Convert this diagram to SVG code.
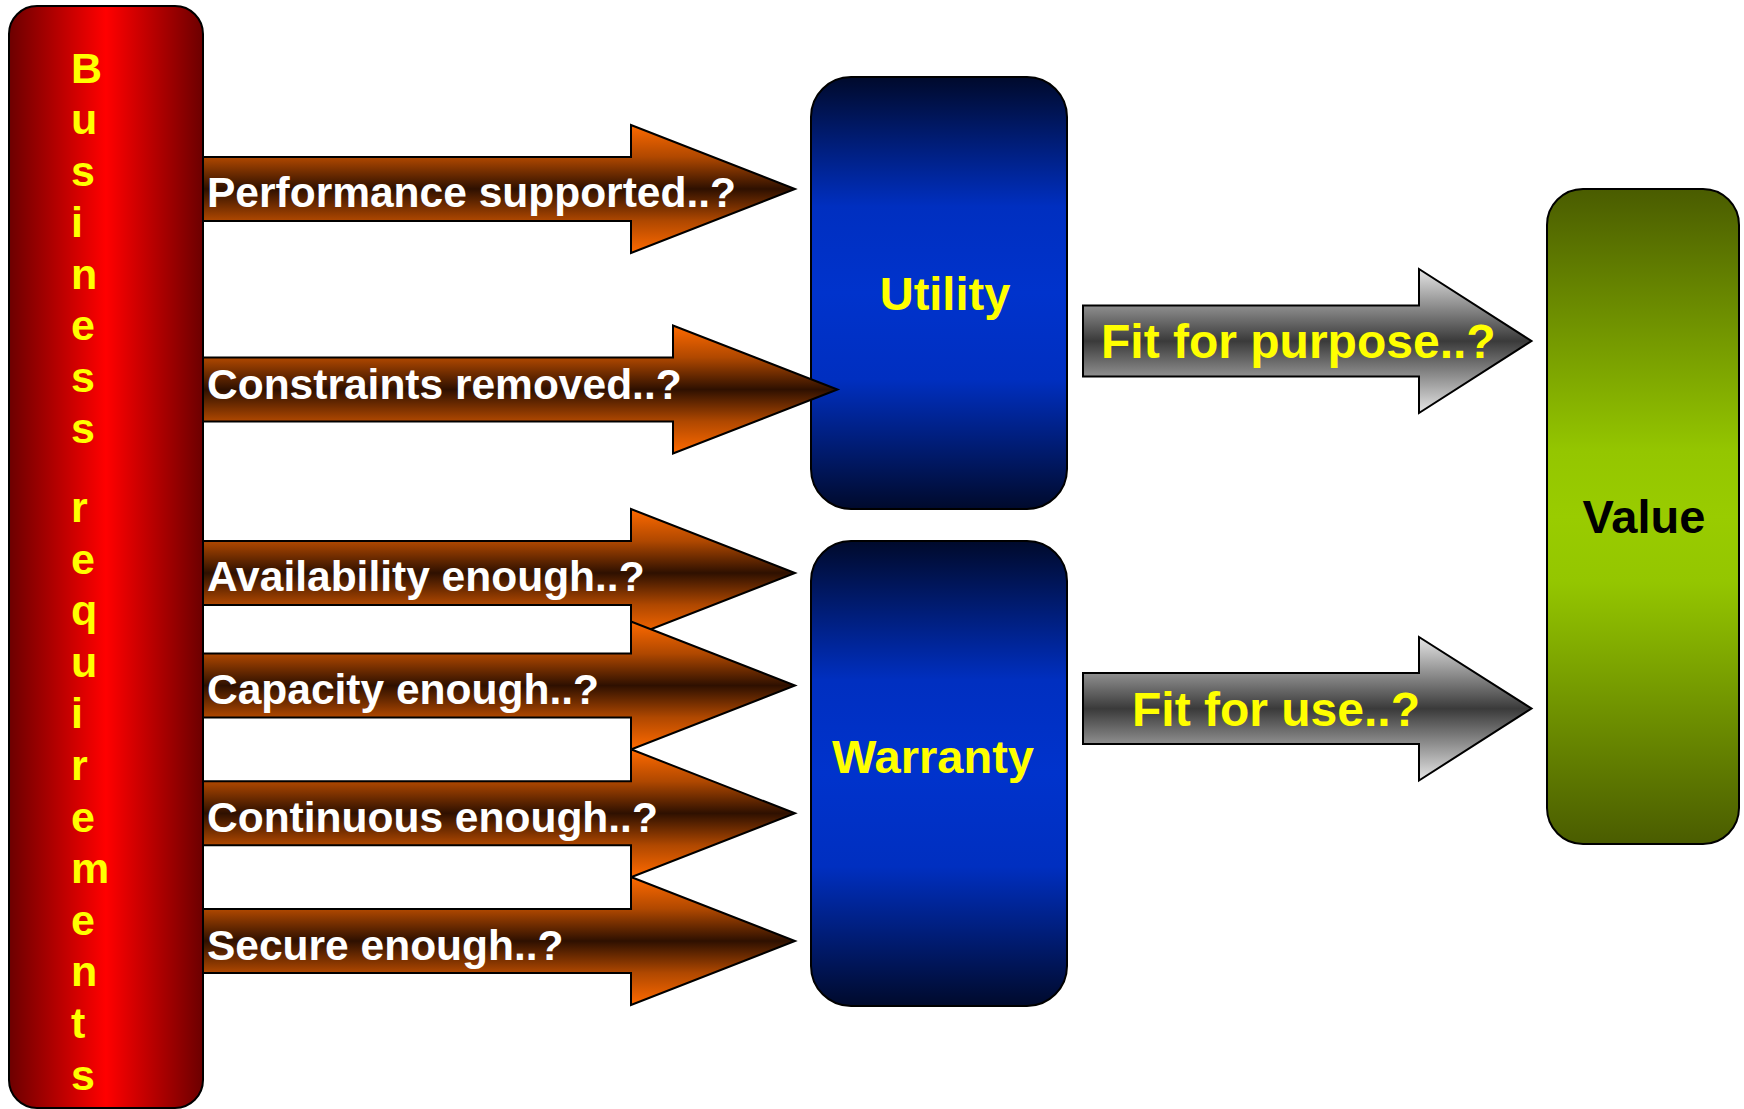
<svg xmlns="http://www.w3.org/2000/svg" width="1744" height="1109" viewBox="0 0 1744 1109">
  <defs>
    <linearGradient id="redCol" x1="0" y1="0" x2="1" y2="0">
      <stop offset="0" stop-color="#6c0000"/>
      <stop offset="0.5" stop-color="#ff0000"/>
      <stop offset="1" stop-color="#6c0000"/>
    </linearGradient>
    <linearGradient id="orange" x1="0" y1="0" x2="0" y2="1">
      <stop offset="0" stop-color="#ff6a00"/>
      <stop offset="0.25" stop-color="#b04800"/>
      <stop offset="0.5" stop-color="#2e1000"/>
      <stop offset="0.75" stop-color="#b04800"/>
      <stop offset="1" stop-color="#ff6a00"/>
    </linearGradient>
    <linearGradient id="blue" x1="0" y1="0" x2="0" y2="1">
      <stop offset="0" stop-color="#000a2c"/>
      <stop offset="0.3" stop-color="#002fc0"/>
      <stop offset="0.5" stop-color="#0033cc"/>
      <stop offset="0.7" stop-color="#002fc0"/>
      <stop offset="1" stop-color="#000a2c"/>
    </linearGradient>
    <linearGradient id="gray" x1="0" y1="0" x2="0" y2="1">
      <stop offset="0" stop-color="#e6e6e6"/>
      <stop offset="0.5" stop-color="#3a3a3a"/>
      <stop offset="1" stop-color="#e6e6e6"/>
    </linearGradient>
    <linearGradient id="green" x1="0" y1="0" x2="0" y2="1">
      <stop offset="0" stop-color="#4a5c00"/>
      <stop offset="0.4" stop-color="#94c600"/>
      <stop offset="0.5" stop-color="#99cc00"/>
      <stop offset="0.6" stop-color="#94c600"/>
      <stop offset="1" stop-color="#4a5c00"/>
    </linearGradient>
  </defs>
  <style>
    .edge { stroke: #000; stroke-width: 2; }
    .arr { fill: url(#orange); }
    .garr { fill: url(#gray); }
    .t { font-family: "Liberation Sans", Arial, sans-serif; font-weight: bold; }
    .wt { fill: #ffffff; font-size: 42.5px; }
    .yt { fill: #ffff00; font-size: 48px; }
  </style>

  <rect width="1744" height="1109" fill="#ffffff"/>

  <!-- requirement arrows from the column -->
  <g id="connectors">
    <g id="arrow-performance">
      <polygon class="arr edge" points="203,157 631,157 631,125 795,189 631,253 631,221 203,221"/>
      <text class="t wt" x="207" y="207">Performance supported..?</text>
    </g>
    <g id="arrow-availability">
      <polygon class="arr edge" points="203,541 631,541 631,509 795,573 631,637 631,605 203,605"/>
      <text class="t wt" x="207" y="591">Availability enough..?</text>
    </g>
    <g id="arrow-capacity">
      <polygon class="arr edge" points="203,653.5 631,653.5 631,621.5 795,685.5 631,749.5 631,717.5 203,717.5"/>
      <text class="t wt" x="207" y="704">Capacity enough..?</text>
    </g>
    <g id="arrow-continuous">
      <polygon class="arr edge" points="203,781.3 631,781.3 631,749.3 795,813.3 631,877.3 631,845.3 203,845.3"/>
      <text class="t wt" x="207" y="832">Continuous enough..?</text>
    </g>
    <g id="arrow-secure">
      <polygon class="arr edge" points="203,909 631,909 631,877 795,941 631,1005 631,973 203,973"/>
      <text class="t wt" x="207" y="960">Secure enough..?</text>
    </g>
  </g>

  <!-- Business requirements column -->
  <g id="business-requirements">
    <rect class="edge" x="9" y="6" width="194" height="1102" rx="28" fill="url(#redCol)"/>
    <text class="t" fill="#ffff00" font-size="43">
      <tspan x="71" y="82.5">B</tspan>
      <tspan x="71" y="134">u</tspan>
      <tspan x="71" y="185.5">s</tspan>
      <tspan x="71" y="237">i</tspan>
      <tspan x="71" y="288.5">n</tspan>
      <tspan x="71" y="340">e</tspan>
      <tspan x="71" y="391.5">s</tspan>
      <tspan x="71" y="443">s</tspan>
      <tspan x="71" y="522">r</tspan>
      <tspan x="71" y="573.6">e</tspan>
      <tspan x="71" y="625.2">q</tspan>
      <tspan x="71" y="676.8">u</tspan>
      <tspan x="71" y="728.4">i</tspan>
      <tspan x="71" y="780">r</tspan>
      <tspan x="71" y="831.6">e</tspan>
      <tspan x="71" y="883.2">m</tspan>
      <tspan x="71" y="934.8">e</tspan>
      <tspan x="71" y="986.4">n</tspan>
      <tspan x="71" y="1038">t</tspan>
      <tspan x="71" y="1089.6">s</tspan>
    </text>
  </g>

  <!-- Utility -->
  <g id="utility">
    <rect class="edge" x="811" y="77" width="256" height="432" rx="40" fill="url(#blue)"/>
    <text class="t" fill="#ffff00" font-size="47" x="945" y="310" text-anchor="middle">Utility</text>
  </g>

  <!-- arrow overlapping the Utility box -->
  <g id="arrow-constraints">
    <polygon class="arr edge" points="203,357.5 673,357.5 673,325.5 837.5,389.5 673,453.5 673,421.5 203,421.5"/>
    <text class="t wt" x="207" y="399">Constraints removed..?</text>
  </g>

  <!-- Warranty -->
  <g id="warranty">
    <rect class="edge" x="811" y="541" width="256" height="465" rx="40" fill="url(#blue)"/>
    <text class="t" fill="#ffff00" font-size="47" x="933" y="773" text-anchor="middle">Warranty</text>
  </g>

  <!-- outcome arrows -->
  <g id="outcome-arrows">
    <g id="arrow-purpose">
      <polygon class="garr edge" points="1083,305.5 1419,305.5 1419,269 1531.5,341 1419,413 1419,376.5 1083,376.5"/>
      <text class="t yt" x="1101" y="358">Fit for purpose..?</text>
    </g>
    <g id="arrow-use">
      <polygon class="garr edge" points="1083,673 1419,673 1419,637 1531.5,708.5 1419,780.5 1419,744 1083,744"/>
      <text class="t yt" x="1132" y="726">Fit for use..?</text>
    </g>
  </g>

  <!-- Value -->
  <g id="value">
    <rect class="edge" x="1547" y="189" width="192" height="655" rx="36" fill="url(#green)"/>
    <text class="t" fill="#000000" font-size="47" x="1644" y="533" text-anchor="middle">Value</text>
  </g>
</svg>
